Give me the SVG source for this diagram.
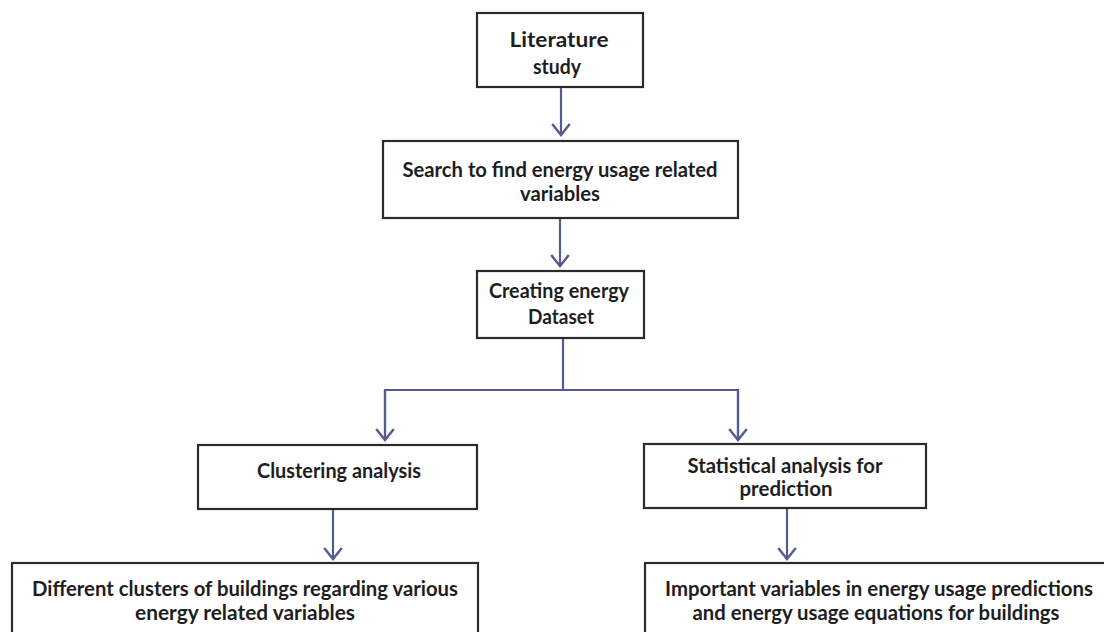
<svg xmlns="http://www.w3.org/2000/svg" width="1104" height="632" viewBox="0 0 1104 632">
  <defs>
    <style>
      .box { fill: #ffffff; stroke: #2b2b2b; stroke-width: 2.2; }
      .lbl { font-family: Lato, "Open Sans", "Liberation Sans", sans-serif; font-weight: 700; font-size: 20px; fill: #1e1e1e; text-anchor: middle; }
      .conn { fill: none; stroke: #565a92; stroke-width: 2.2; }
      .head { fill: none; stroke: #565a92; stroke-width: 2.2; stroke-linejoin: miter; }
    </style>
    <marker id="arrow" markerUnits="userSpaceOnUse" markerWidth="22" markerHeight="22" viewBox="-12 -10 14 20" refX="0" refY="0" orient="auto">
      <path class="head" d="M-10,-8 L0,0 L-10,8"/>
    </marker>
  </defs>
  <rect width="1104" height="632" fill="#ffffff"/>

  <g id="connectors">
    <line class="conn" x1="561" y1="87" x2="561" y2="135" marker-end="url(#arrow)"/>
    <line class="conn" x1="560" y1="218" x2="560" y2="266" marker-end="url(#arrow)"/>
    <line class="conn" x1="563" y1="338" x2="563" y2="390"/>
    <polyline class="conn" points="385,440 385,390 738,390 738,440"/>
    <line class="conn" x1="385" y1="390" x2="385" y2="440" marker-end="url(#arrow)"/>
    <line class="conn" x1="738" y1="390" x2="738" y2="440" marker-end="url(#arrow)"/>
    <line class="conn" x1="333" y1="509" x2="333" y2="559" marker-end="url(#arrow)"/>
    <line class="conn" x1="787" y1="508" x2="787" y2="559" marker-end="url(#arrow)"/>
  </g>

  <g id="literature-study">
    <rect class="box" x="477" y="13" width="166" height="74"/>
    <text class="lbl" x="559" y="47" textLength="99" lengthAdjust="spacingAndGlyphs">Literature</text>
    <text class="lbl" x="557" y="74" textLength="48" lengthAdjust="spacingAndGlyphs">study</text>
  </g>

  <g id="search-variables">
    <rect class="box" x="383" y="141" width="355" height="77"/>
    <text class="lbl" x="560" y="177" textLength="315" lengthAdjust="spacingAndGlyphs">Search to find energy usage related</text>
    <text class="lbl" x="560" y="201" textLength="80" lengthAdjust="spacingAndGlyphs">variables</text>
  </g>

  <g id="creating-dataset">
    <rect class="box" x="477" y="271" width="167" height="67"/>
    <text class="lbl" x="559" y="298" textLength="140" lengthAdjust="spacingAndGlyphs">Creating energy</text>
    <text class="lbl" x="561" y="324" textLength="66" lengthAdjust="spacingAndGlyphs">Dataset</text>
  </g>

  <g id="clustering-analysis">
    <rect class="box" x="198" y="445" width="279" height="64"/>
    <text class="lbl" x="339" y="478" textLength="164" lengthAdjust="spacingAndGlyphs">Clustering analysis</text>
  </g>

  <g id="statistical-analysis">
    <rect class="box" x="644" y="444" width="282" height="64"/>
    <text class="lbl" x="785" y="473" textLength="195" lengthAdjust="spacingAndGlyphs">Statistical analysis for</text>
    <text class="lbl" x="786" y="496" textLength="93" lengthAdjust="spacingAndGlyphs">prediction</text>
  </g>

  <g id="building-clusters">
    <rect class="box" x="12" y="563" width="466" height="80"/>
    <text class="lbl" x="245" y="596" textLength="426" lengthAdjust="spacingAndGlyphs">Different clusters of buildings regarding various</text>
    <text class="lbl" x="245" y="620" textLength="220" lengthAdjust="spacingAndGlyphs">energy related variables</text>
  </g>

  <g id="important-variables">
    <rect class="box" x="645" y="563" width="480" height="80"/>
    <text class="lbl" x="879" y="596" textLength="428" lengthAdjust="spacingAndGlyphs">Important variables in energy usage predictions</text>
    <text class="lbl" x="876" y="620" textLength="367" lengthAdjust="spacingAndGlyphs">and energy usage equations for buildings</text>
  </g>
</svg>
